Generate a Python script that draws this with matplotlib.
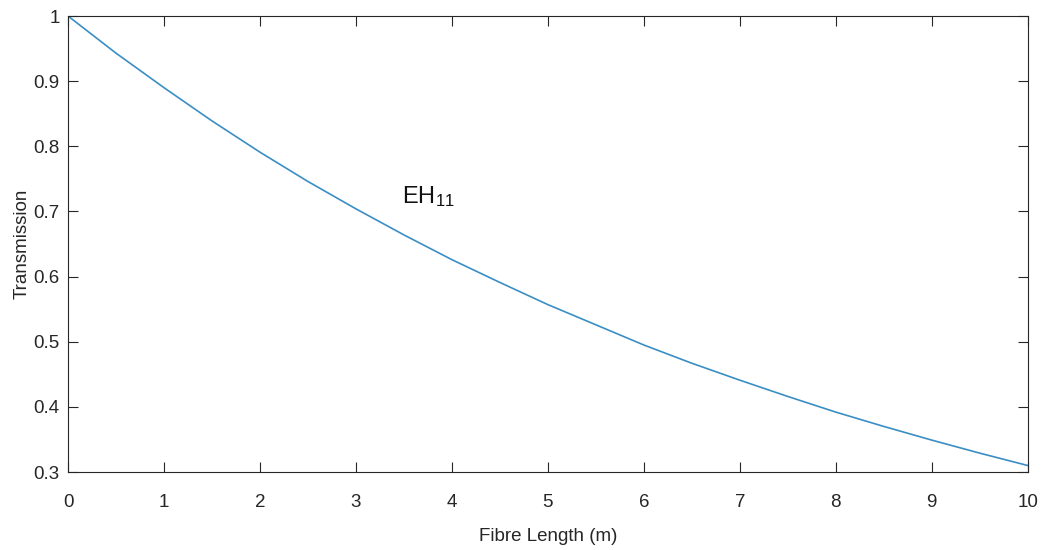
import numpy as np
import matplotlib
matplotlib.use('Agg')
import matplotlib.pyplot as plt

# transmission of the EH11 mode versus fibre length
length_m = [0.0, 0.5, 1.0, 1.5, 2.0, 2.5, 3.0, 3.5, 4.0, 4.5, 5.0,
            5.5, 6.0, 6.5, 7.0, 7.5, 8.0, 8.5, 9.0, 9.5, 10.0]
transmission = [1.000, 0.943, 0.890, 0.839, 0.791, 0.746, 0.704, 0.664, 0.626, 0.591, 0.557,
                0.526, 0.495, 0.467, 0.441, 0.416, 0.392, 0.370, 0.349, 0.329, 0.310]

x_ticks = np.arange(0, 11, 1)
y_ticks = [0.3, 0.4, 0.5, 0.6, 0.7, 0.8, 0.9, 1.0]
y_tick_labels = ['0.3', '0.4', '0.5', '0.6', '0.7', '0.8', '0.9', '1']

plt.rcParams['font.family'] = ['Liberation Sans', 'DejaVu Sans']
plt.rcParams['mathtext.default'] = 'regular'

fig = plt.figure(figsize=(10.43, 5.5), dpi=100)
fig.patch.set_facecolor('white')
ax = fig.add_axes([0.0652, 0.1418, 0.9201, 0.8291])

ax.plot(length_m, transmission, color='#3a8ec4', linewidth=1.2)

ax.text(3.48, 0.713, 'EH$_{11}$', fontsize=17, color='#111111')

ax.set_xlim(0, 10)
ax.set_ylim(0.3, 1.0)
ax.set_xticks(x_ticks)
ax.set_xticklabels([str(v) for v in x_ticks])
ax.set_yticks(y_ticks)
ax.set_yticklabels(y_tick_labels)

ax.tick_params(direction='in', length=7, width=0.8, color='#262626',
               labelsize=13.5, labelcolor='#262626',
               top=True, right=True)
ax.tick_params(axis='x', pad=16)
ax.tick_params(axis='y', pad=6)
for sp in ax.spines.values():
    sp.set_color('#262626')
    sp.set_linewidth(0.8)

ax.set_xlabel('Fibre Length (m)', fontsize=13.5, color='#262626', labelpad=12)
ax.set_ylabel('Transmission', fontsize=13.5, color='#262626', labelpad=2)

plt.savefig('out.png', dpi=100)
